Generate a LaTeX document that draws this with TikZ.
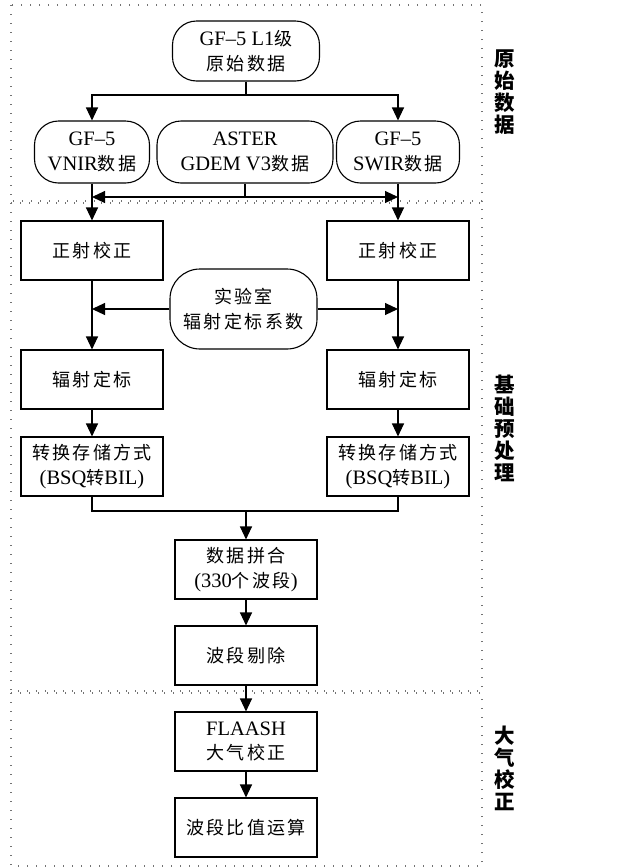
\documentclass[tikz,border=0pt]{standalone}
\usepackage{fontspec}
\setmainfont{Liberation Serif}
\newfontfamily\zhfont{Noto Sans CJK SC}[Scale=0.88,LetterSpace=13]
\newfontfamily\hei{Noto Sans CJK SC}
\usetikzlibrary{arrows.meta}
\usetikzlibrary{positioning}
\newcommand*\zh[1]{{\zhfont #1}}

\begin{document}
\begin{tikzpicture}
    [%
        x=1pt,y=-1pt,%
        line width=1.1pt,%
        every node/.style={font=\fontsize{20.5}{24.5}\selectfont},%
        data source/.style={%
            draw,%
            rounded corners=24pt,%
            align=center,%
            inner sep=0pt%
        },%
        process/.style={%
            draw,%
            rectangle,%
            align=center,%
            minimum width=142pt,%
            minimum height=59pt,%
            inner sep=0pt%
        },%
        flow/.style={-{Triangle[width=12pt,length=13pt]}},%
        stage frame/.style={%
            draw=black!55,%
            line width=1.4pt,%
            dash pattern=on 1.4pt off 7.6pt%
        },%
        stage label/.style={%
            font=\hei\bfseries\fontsize{20.5}{22}\selectfont,%
            align=center%
        }%
    ]%
%
    \useasboundingbox (0,0) rectangle (626,868);
    % dotted frames of the three stages
    % \top/\bottom upper and lower edge of the frame
    \foreach \top/\bottom in {5/201,203/691,693/866} {
        \draw[stage frame] (11,\top) rectangle (482,\bottom);
    } % \foreach \top/\bottom
    \node[stage label] (stage-raw) at (505,92) {原\\始\\数\\据};
    \node[stage label] (stage-pre) at (505,428) {基\\础\\预\\处\\理};
    \node[stage label] (stage-atm) at (505,768) {大\\气\\校\\正};
%
% source data
    \node[data source, minimum width=147pt, minimum height=60pt] (l1-raw) at (246,51)
        {GF--5 L1\zh{级}\\\zh{原始数据}};
    \node[data source, minimum width=115pt, minimum height=62pt] (vnir) at (92,152)
        {GF--5\\VNIR\zh{数据}};
    \node[data source, minimum width=176pt, minimum height=62pt] (aster) at (245,152)
        {ASTER\\GDEM V3\zh{数据}};
    \node[data source, minimum width=123pt, minimum height=62pt] (swir) at (398,152)
        {GF--5\\SWIR\zh{数据}};
    \coordinate (split-raw) at (246,95);
    \draw (l1-raw) -- (split-raw);
    \draw[flow] (split-raw) -| (vnir);
    \draw[flow] (split-raw) -| (swir);
%
% preprocessing of both sensors
    % \side sensor column
    % \x column position
    \foreach \side/\x in {left/92,right/398} {
        \node[process] (ortho-\side) at (\x,250.5) {\zh{正射校正}};
        \node[process] (radcal-\side) at (\x,379.5) {\zh{辐射定标}};
        \node[process] (convert-\side) at (\x,466.5) {\zh{转换存储方式}\\(BSQ\zh{转}BIL)};
        \draw[flow] (ortho-\side) -- (radcal-\side);
        \draw[flow] (radcal-\side) -- (convert-\side);
    } % \foreach \side/\x
    \draw[flow] (vnir) -- (ortho-left);
    \draw[flow] (swir) -- (ortho-right);
    % DEM goes to both sensor lines
    \coordinate (split-dem) at (245,197);
    \coordinate (dem-left) at (vnir.south |- split-dem);
    \coordinate (dem-right) at (swir.south |- split-dem);
    \draw (aster) -- (split-dem);
    \draw[flow] (split-dem) -- (dem-left);
    \draw[flow] (split-dem) -- (dem-right);
    % lab coefficients go to both sensor lines
    \node[data source, rounded corners=30pt, minimum width=147pt, minimum height=80pt] (lab-coef)
        at (243.5,309) {\zh{实验室}\\\zh{辐射定标系数}};
    \coordinate (coef-left) at (ortho-left.south |- lab-coef);
    \coordinate (coef-right) at (ortho-right.south |- lab-coef);
    \draw[flow] (lab-coef) -- (coef-left);
    \draw[flow] (lab-coef) -- (coef-right);
%
% merged data
    \coordinate (join) at (246,511);
    \node[process] (merge) at (246,569.5) {\zh{数据拼合}\\(330\zh{个波段})};
    \node[process] (band-drop) at (246,655.5) {\zh{波段剔除}};
    \node[process] (flaash) at (246,741.5) {FLAASH\\\zh{大气校正}};
    \node[process] (band-ratio) at (246,827.5) {\zh{波段比值运算}};
    \draw (convert-left) |- (join) -| (convert-right);
    \draw[flow] (join) -- (merge);
    \draw[flow] (merge) -- (band-drop);
    \draw[flow] (band-drop) -- (flaash);
    \draw[flow] (flaash) -- (band-ratio);
\end{tikzpicture}
\end{document}
